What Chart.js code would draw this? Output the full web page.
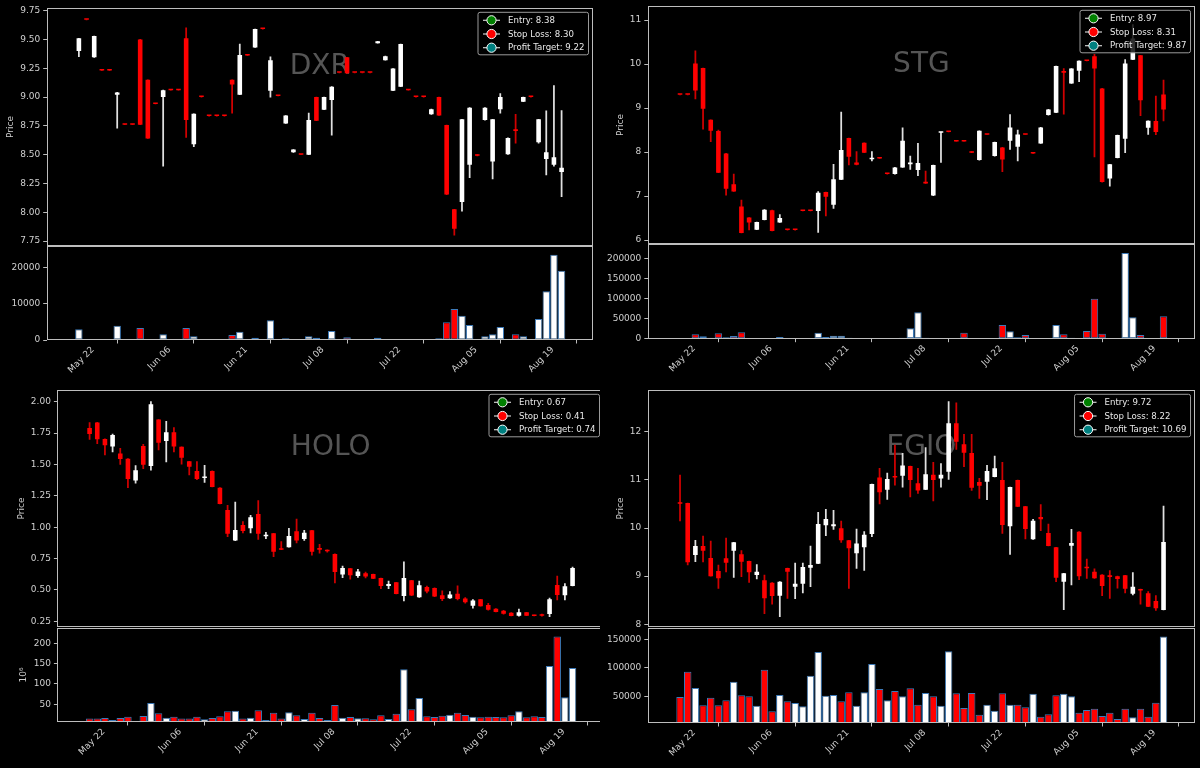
<!DOCTYPE html>
<html><head><meta charset="utf-8">
<script src="https://cdn.jsdelivr.net/npm/chart.js@4.4.1/dist/chart.umd.min.js"></script>
<style>
html,body{margin:0;padding:0;background:#000;width:1200px;height:768px;overflow:hidden;}
.box{position:absolute;overflow:hidden;}
canvas{position:absolute;display:block;}
</style></head><body>
<script>
// ---------- shared axis labels ----------
const dateLabels = ['May 22','Jun 06','Jun 21','Jul 08','Jul 22','Aug 05','Aug 19'];
const dateTickIndex = [0,10,20,30,40,50,60];
const legendNames = ['Entry','Stop Loss','Profit Target'];

// ---------- DXR ----------
const dxrOpen  = [9.40,9.67,9.345,9.23,9.23,9.02,8.76,8.76,9.50,9.15,8.94,9.00,9.06,9.06,9.51,8.59,9.00,8.835,8.835,8.835,9.15,9.02,9.36,9.43,9.59,9.055,9.01,8.77,8.52,8.50,8.50,9.00,8.89,8.975,9.21,9.345,9.21,9.21,9.21,9.467,9.32,9.055,9.09,9.06,9.00,9.00,8.85,9.00,8.757,8.025,8.09,8.413,8.50,8.80,8.44,8.894,8.503,8.72,8.96,9.00,8.607,8.462,8.413,8.35];
const dxrHigh  = [9.51,9.67,9.53,9.23,9.23,9.04,8.76,8.76,9.50,9.15,8.94,9.06,9.06,9.06,9.60,8.855,9.00,8.835,8.835,8.835,9.15,9.46,9.36,9.59,9.59,9.35,9.01,8.84,8.545,8.50,8.86,9.00,9.00,9.09,9.21,9.345,9.21,9.21,9.21,9.484,9.355,9.247,9.46,9.06,9.00,9.00,8.895,9.00,8.757,8.025,8.807,8.908,8.50,8.908,8.807,9.03,8.645,8.85,9.00,9.00,8.807,8.88,9.10,8.882];
const dxrLow   = [9.35,9.67,9.345,9.23,9.23,8.73,8.76,8.76,8.76,8.64,8.94,8.40,9.06,9.06,8.65,8.57,9.00,8.835,8.835,8.835,8.86,9.02,9.36,9.43,9.59,9.00,9.01,8.77,8.52,8.50,8.50,8.795,8.89,8.67,9.21,9.206,9.21,9.21,9.21,9.467,9.32,9.055,9.09,9.06,9.00,9.00,8.85,8.84,8.153,7.80,8.01,8.30,8.49,8.80,8.29,8.86,8.503,8.60,8.96,9.00,8.60,8.324,8.40,8.135];
const dxrClose = [9.51,9.67,9.53,9.23,9.23,9.04,8.76,8.76,8.76,8.64,8.94,9.06,9.06,9.06,8.80,8.855,9.00,8.835,8.835,8.835,9.11,9.365,9.36,9.59,9.59,9.32,9.01,8.84,8.545,8.50,8.80,8.795,9.00,9.09,9.21,9.206,9.21,9.21,9.21,9.484,9.355,9.247,9.46,9.06,9.00,9.00,8.895,8.84,8.153,7.857,8.807,8.908,8.49,8.908,8.807,9.00,8.645,8.705,9.00,9.00,8.807,8.52,8.477,8.387];
const dxrVolume = [2935,200,100,0,0,3945,100,0,3300,200,50,1560,0,0,3300,1000,50,200,0,0,1380,2290,0,640,0,5410,200,460,100,200,1000,640,280,2480,0,730,0,0,0,640,280,280,100,200,280,0,180,460,4860,8530,6700,4130,200,1000,1560,3580,280,1560,1000,0,5780,13400,23490,19080];
const dxrPriceTicks = [7.75,8.00,8.25,8.50,8.75,9.00,9.25,9.50,9.75];
const dxrVolumeTicks = [0,10000,20000];
const dxrLevels = [8.38,8.30,9.22];

// ---------- STG ----------
const stgOpen  = [9.30,9.30,10.015,9.91,8.735,8.48,7.97,7.27,6.765,6.51,6.235,6.455,6.68,6.40,6.227,6.227,6.66,6.66,6.66,7.09,6.80,7.37,8.318,7.765,8.21,7.835,7.856,7.50,7.50,7.65,7.72,7.59,7.326,7.01,8.44,8.455,8.24,8.24,8.008,7.818,8.394,7.909,8.106,8.258,8.12,8.394,7.97,8.197,8.84,8.894,9.84,9.56,9.85,10.07,10.18,9.447,7.40,7.864,8.30,10.10,10.20,8.553,8.705,9.31];
const stgHigh  = [9.30,9.30,10.30,9.91,8.735,8.50,7.97,7.50,6.91,6.51,6.41,6.69,6.68,6.58,6.227,6.227,6.66,6.66,7.10,7.09,7.72,8.91,8.318,8.01,8.21,8.01,7.856,7.50,7.65,8.55,7.91,8.197,7.57,7.705,8.455,8.455,8.24,8.24,8.008,8.485,8.394,8.227,8.106,8.85,8.50,8.394,7.97,8.561,8.97,9.955,9.90,9.90,10.075,10.07,10.22,9.447,7.72,8.386,10.10,10.90,10.20,8.712,9.27,9.636];
const stgLow   = [9.30,9.30,9.21,8.52,8.235,7.53,7.02,7.106,6.16,6.23,6.235,6.455,6.205,6.40,6.227,6.227,6.66,6.66,6.175,6.55,6.72,7.37,7.71,7.71,7.985,7.80,7.856,7.50,7.50,7.65,7.606,7.462,7.288,7.01,7.765,8.455,8.24,8.24,7.985,7.818,8.394,7.909,7.553,8.06,7.80,8.394,7.97,8.197,8.84,8.894,8.864,9.56,9.60,10.07,7.89,7.318,7.227,7.864,7.985,10.10,8.826,8.40,8.394,8.705];
const stgClose = [9.30,9.30,9.40,8.985,8.485,7.53,7.167,7.106,6.16,6.40,6.41,6.69,6.205,6.50,6.227,6.227,6.66,6.66,7.076,6.985,7.38,8.045,7.894,7.71,7.985,7.864,7.856,7.50,7.65,8.258,7.765,7.75,7.288,7.705,8.455,8.455,8.24,8.24,7.985,8.485,8.394,8.227,7.833,8.561,8.40,8.394,7.97,8.561,8.97,9.955,9.80,9.90,10.075,10.07,9.90,7.318,7.72,8.386,10.015,10.58,9.18,8.712,8.455,8.97];
const stgVolume = [0,0,10900,5860,2500,13400,3350,6700,15900,500,500,500,500,4180,0,0,0,0,15060,4180,7530,7530,2500,500,500,800,0,0,300,2500,25940,66100,2500,600,300,0,0,15060,300,500,0,300,34300,18400,3350,9200,0,800,300,34300,10900,2500,800,19250,100400,12550,800,300,215000,53560,9200,800,1670,56070];
const stgPriceTicks = [6,7,8,9,10,11];
const stgVolumeTicks = [0,50000,100000,150000,200000];
const stgLevels = [8.97,8.31,9.87];

// ---------- HOLO ----------
const holoOpen  = [1.79,1.835,1.703,1.642,1.588,1.546,1.371,1.647,1.487,1.857,1.687,1.756,1.64,1.525,1.448,1.392,1.448,1.315,1.137,0.893,1.017,0.991,1.105,0.927,0.951,0.832,0.84,0.967,0.906,0.975,0.834,0.816,0.787,0.622,0.672,0.611,0.632,0.627,0.595,0.532,0.561,0.452,0.577,0.441,0.524,0.516,0.457,0.433,0.47,0.431,0.373,0.425,0.38,0.351,0.335,0.319,0.295,0.322,0.30,0.303,0.309,0.54,0.457,0.532];
const holoHigh  = [1.833,1.835,1.703,1.742,1.628,1.546,1.49,1.66,2.0,1.857,1.843,1.793,1.64,1.525,1.522,1.493,1.448,1.315,1.174,1.20,1.044,1.095,1.211,0.959,0.951,0.885,0.991,1.065,0.975,0.975,0.864,0.82,0.787,0.69,0.672,0.664,0.642,0.627,0.595,0.571,0.561,0.723,0.577,0.571,0.53,0.516,0.492,0.486,0.532,0.44,0.423,0.425,0.394,0.351,0.338,0.319,0.348,0.322,0.30,0.308,0.436,0.611,0.55,0.683];
const holoLow   = [1.70,1.665,1.575,1.60,1.50,1.315,1.35,1.466,1.455,1.615,1.52,1.60,1.503,1.416,1.379,1.357,1.32,1.185,0.925,0.893,0.954,0.954,0.903,0.909,0.765,0.821,0.84,0.874,0.895,0.776,0.792,0.80,0.555,0.598,0.585,0.60,0.595,0.59,0.51,0.51,0.468,0.412,0.455,0.441,0.476,0.447,0.415,0.433,0.42,0.394,0.354,0.37,0.338,0.324,0.306,0.293,0.29,0.295,0.293,0.29,0.287,0.42,0.42,0.532];
const holoClose = [1.742,1.70,1.652,1.735,1.543,1.384,1.453,1.498,1.98,1.673,1.756,1.642,1.554,1.482,1.384,1.402,1.32,1.185,0.948,0.978,0.97,1.079,0.948,0.935,0.805,0.821,0.93,0.893,0.956,0.805,0.821,0.808,0.643,0.675,0.617,0.646,0.606,0.59,0.532,0.548,0.468,0.595,0.455,0.537,0.487,0.447,0.428,0.463,0.428,0.401,0.415,0.37,0.343,0.324,0.311,0.293,0.322,0.295,0.293,0.295,0.425,0.46,0.529,0.675];
const holoVolume = [14.8,14.8,16.4,11.5,16.4,19.7,8.2,21.3,53.3,27.9,17.2,19.7,14.8,14.8,19.7,13.1,16.4,20.5,32.8,34.4,14.8,17.2,35.2,11.5,29.5,14.8,30.3,23.0,13.9,29.5,16.4,11.5,48.4,17.2,18.9,15.6,15.6,13.1,23.0,13.9,27.0,136.1,37.7,65.6,20.5,18.9,22.1,24.6,29.5,23.8,19.7,18.0,19.7,18.9,18.0,23.0,32.8,18.0,20.5,18.9,144.3,216.4,67.2,139.3];
const holoPriceTicks = [0.25,0.50,0.75,1.00,1.25,1.50,1.75,2.00];
const holoVolumeTicks = [50,100,150,200];
const holoLevels = [0.67,0.41,0.74];

// ---------- EGIO ----------
const egioOpen  = [10.526,10.519,9.44,9.626,9.377,9.107,9.37,9.53,9.453,9.315,9.024,8.914,8.865,8.595,9.17,8.782,8.844,9.176,9.26,10.055,10.035,9.993,9.744,9.474,9.6,9.875,11.05,10.796,11.08,11.087,11.287,10.927,10.796,11.107,11.03,11.17,12.173,11.737,11.557,10.955,10.962,11.06,10.997,10.035,10.997,10.45,9.765,10.228,9.896,9.599,8.886,9.633,9.924,9.176,9.093,9.031,9.017,9.0,9.017,8.637,8.733,8.644,8.484,8.297];
const egioHigh  = [11.10,10.519,9.744,9.834,9.73,9.232,9.79,9.702,9.53,9.315,9.24,9.024,8.865,8.886,9.17,9.27,9.273,9.626,10.325,10.39,10.367,10.145,9.744,9.98,9.924,10.913,11.24,11.142,11.72,11.55,11.287,11.24,11.668,11.363,11.336,12.623,12.602,11.945,11.945,11.03,11.30,11.495,11.363,10.851,10.997,10.45,10.18,10.484,10.083,9.599,9.059,9.972,9.924,9.356,9.15,9.031,9.114,9.0,9.017,9.073,8.733,8.68,8.595,10.457];
const egioLow   = [10.146,9.232,9.30,9.294,9.0,8.747,9.087,8.976,8.99,8.87,8.94,8.22,8.42,8.16,8.54,8.53,8.65,8.78,9.26,9.84,9.972,9.70,8.747,9.163,9.12,9.82,10.498,10.595,10.89,10.85,10.644,10.72,10.796,10.56,10.85,11.01,11.633,11.273,10.78,10.616,10.588,11.06,9.889,9.453,10.443,9.772,9.765,9.945,9.626,8.886,8.304,8.817,8.927,8.955,8.955,8.595,8.54,8.75,8.65,8.61,8.42,8.367,8.29,8.297];
const egioClose = [10.505,9.287,9.626,9.53,9.0,8.955,9.28,9.702,9.30,9.08,9.093,8.54,8.588,8.886,9.093,8.844,9.19,9.232,10.083,10.187,10.076,9.744,9.578,9.68,9.86,10.913,10.74,11.017,11.05,11.30,10.997,10.78,11.114,10.997,11.107,12.173,11.792,11.564,10.837,10.879,11.183,11.24,10.062,10.851,10.443,9.979,10.152,10.18,9.626,8.969,9.059,9.689,9.0,9.163,8.955,8.796,8.983,8.941,8.74,8.782,8.70,8.367,8.332,9.709];
const egioVolume = [48830,93270,64620,34210,47660,34210,42980,75730,51750,50000,33630,96780,23680,52340,41230,38300,32460,86260,127780,51170,52340,41230,57020,33630,57020,106730,62870,42980,59360,50000,64040,35380,55850,50000,33630,128950,55260,29530,55850,17840,35380,24850,55260,35380,35380,30700,54680,14330,18420,51750,54680,50000,21340,26020,28360,15500,21340,10230,28360,13160,28360,14330,38890,154680];
const egioPriceTicks = [8,9,10,11,12];
const egioVolumeTicks = [50000,100000,150000];
const egioLevels = [9.72,8.22,10.69];

// ---------- layout (positions / styles only) ----------
const X_MIN = -4.2, X_MAX = 67.1;
const FONT = 'DejaVu Sans';
const TICK_COLOR = '#cfcfcf';
const SPINE = '#bdbdbd';
const levelColors = ['#008000','#ff0000','#008080'];

const panels = [
  {sym:'DXR', open:dxrOpen, high:dxrHigh, low:dxrLow, close:dxrClose, vol:dxrVolume,
   pTicks:dxrPriceTicks, vTicks:dxrVolumeTicks, levels:dxrLevels, dec:2,
   bx:0, L:46.7, R:593, pT:8, pB:246, pCT:0, vT:246, vB:340,
   pMin:7.707, pMax:9.773, vMin:0, vMax:25870, titleX:10.7, vTitle:'', vTitleX:10.7},
  {sym:'STG', open:stgOpen, high:stgHigh, low:stgLow, close:stgClose, vol:stgVolume,
   pTicks:stgPriceTicks, vTicks:stgVolumeTicks, levels:stgLevels, dec:0,
   bx:600, L:647.8, R:1195, pT:6, pB:244, pCT:0, vT:244, vB:338.7,
   pMin:5.91, pMax:11.32, vMin:0, vMax:237600, titleX:621, vTitle:'', vTitleX:621},
  {sym:'HOLO', open:holoOpen, high:holoHigh, low:holoLow, close:holoClose, vol:holoVolume,
   pTicks:holoPriceTicks, vTicks:holoVolumeTicks, levels:holoLevels, dec:2,
   bx:0, L:57.4, R:604, pT:390, pB:627, pCT:384, vT:628, vB:722,
   pMin:0.2046, pMax:2.093, vMin:6.5, vMax:237.6, titleX:22, vTitle:'10\u2076', vTitleX:24},
  {sym:'EGIO', open:egioOpen, high:egioHigh, low:egioLow, close:egioClose, vol:egioVolume,
   pTicks:egioPriceTicks, vTicks:egioVolumeTicks, levels:egioLevels, dec:0,
   bx:600, L:647.8, R:1195, pT:390, pB:627, pCT:384, vT:628, vB:723,
   pMin:7.944, pMax:12.866, vMin:3160, vMax:169800, titleX:621, vTitle:'', vTitleX:621}
];

Chart.defaults.font.family = FONT;
Chart.defaults.font.size = 9;
Chart.defaults.color = TICK_COLOR;

function mkCanvas(parent, left, top, w, h) {
  const c = document.createElement('canvas');
  c.width = w; c.height = h;
  c.style.left = left + 'px'; c.style.top = top + 'px';
  c.style.width = w + 'px'; c.style.height = h + 'px';
  parent.appendChild(c);
  return c;
}

function framePlugin() {
  return {
    id: 'frame',
    afterDatasetsDraw(chart) {
      const a = chart.chartArea, ctx = chart.ctx;
      ctx.save();
      ctx.strokeStyle = SPINE; ctx.lineWidth = 1;
      ctx.strokeRect(Math.round(a.left) + 0.5, Math.round(a.top) + 0.5,
        Math.round(a.right) - Math.round(a.left) - 1, Math.round(a.bottom) - Math.round(a.top) - 1);
      ctx.restore();
    }
  };
}

function watermarkPlugin(text) {
  return {
    id: 'watermark',
    beforeDatasetsDraw(chart) {
      const a = chart.chartArea, ctx = chart.ctx;
      ctx.save();
      ctx.font = '28px "' + FONT + '"';
      ctx.fillStyle = '#555555';
      ctx.textAlign = 'center'; ctx.textBaseline = 'middle';
      ctx.fillText(text, (a.left + a.right) / 2, a.top + 0.245 * (a.bottom - a.top));
      ctx.restore();
    }
  };
}

function legendPlugin(levels) {
  return {
    id: 'levelsLegend',
    afterDraw(chart) {
      const a = chart.chartArea, ctx = chart.ctx;
      ctx.save();
      ctx.font = '8.6px "' + FONT + '"';
      const labels = legendNames.map((n, k) => n + ': ' + levels[k].toFixed(2));
      const tw = Math.max(...labels.map(t => ctx.measureText(t).width));
      const w = 30 + tw + 4, h = 42.5;
      const x0 = a.right - 4.5 - w, y0 = a.top + 4.3;
      ctx.beginPath();
      if (ctx.roundRect) ctx.roundRect(x0, y0, w, h, 2); else ctx.rect(x0, y0, w, h);
      ctx.fillStyle = 'rgba(0,0,0,0.82)'; ctx.fill();
      ctx.strokeStyle = '#9a9a9a'; ctx.lineWidth = 1; ctx.stroke();
      labels.forEach((t, k) => {
        const y = y0 + 8 + k * 13.7;
        ctx.beginPath(); ctx.moveTo(x0 + 5, y); ctx.lineTo(x0 + 22, y);
        ctx.strokeStyle = '#d0d0d0'; ctx.lineWidth = 1.2; ctx.stroke();
        ctx.beginPath(); ctx.arc(x0 + 13.5, y, 4.6, 0, Math.PI * 2);
        ctx.fillStyle = levelColors[k]; ctx.fill();
        ctx.strokeStyle = '#ffffff'; ctx.lineWidth = 1; ctx.stroke();
        ctx.fillStyle = '#e8e8e8'; ctx.textAlign = 'left'; ctx.textBaseline = 'middle';
        ctx.fillText(t, x0 + 30, y + 0.5);
      });
      ctx.restore();
    }
  };
}

function yAxis(p, min, max, ticks, fmt, title, titleX) {
  return {
    min, max,
    afterFit: s => { s.width = p.L - p.bx; s.paddingTop = 0; s.paddingBottom = 0; s.paddingLeft = 0; s.paddingRight = 0; },
    afterBuildTicks: s => { s.ticks = ticks.map(v => ({value: v})); },
    ticks: {callback: fmt, color: TICK_COLOR, padding: 3, autoSkip: false, font: {size: 9}},
    grid: {drawOnChartArea: false, drawTicks: true, tickLength: 3.5, color: SPINE},
    border: {display: false},
    title: {display: !!title, text: title, color: TICK_COLOR, font: {size: 9},
            padding: {top: titleX - p.bx - 5.4, bottom: 0}}
  };
}

function buildPanel(p) {
  const box = document.createElement('div');
  box.className = 'box';
  box.style.left = p.bx + 'px'; box.style.top = '0px';
  box.style.width = '600px'; box.style.height = '768px';
  document.body.appendChild(box);

  const idx = p.open.map((_, i) => i);
  const up = idx.map(i => p.close[i] > p.open[i]);
  const bodyCol = up.map(u => u ? '#ffffff' : '#ff0000');
  const wickCol = up.map(u => u ? '#e0e0e0' : '#d00000');
  const cw = Math.max(600, Math.ceil(p.R - p.bx + 8));
  const rightPad = cw - (p.R - p.bx);

  // price panel
  const pc = mkCanvas(box, 0, p.pCT, cw, p.pB - p.pCT);
  new Chart(pc, {
    type: 'bar',
    data: {datasets: [
      {data: idx.map(i => ({x: i, y: [p.open[i], p.close[i]]})), backgroundColor: bodyCol,
       borderWidth: 0, barPercentage: 0.6, categoryPercentage: 1, grouped: false, minBarLength: 1.5, order: 0},
      {data: idx.map(i => ({x: i, y: [p.low[i], p.high[i]]})), backgroundColor: wickCol,
       borderWidth: 0, barThickness: 1.1, grouped: false, order: 1}
    ]},
    options: {
      responsive: false, animation: false, devicePixelRatio: 1,
      layout: {autoPadding: false, padding: {left: 0, top: p.pT - p.pCT, right: rightPad, bottom: 0}},
      plugins: {legend: {display: false}, tooltip: {enabled: false}},
      scales: {
        x: {type: 'linear', min: X_MIN, max: X_MAX, offset: false, display: false},
        y: yAxis(p, p.pMin, p.pMax, p.pTicks, v => Number(v).toFixed(p.dec), 'Price', p.titleX)
      }
    },
    plugins: [watermarkPlugin(p.sym), framePlugin(), legendPlugin(p.levels)]
  });

  // volume panel
  const vTop = Math.floor(p.vT);
  const vH = 140;
  const xAxH = vH - (p.vB - vTop);
  const vc = mkCanvas(box, 0, vTop, cw, vH);
  new Chart(vc, {
    type: 'bar',
    data: {datasets: [
      {data: idx.map(i => ({x: i, y: p.vol[i] > 0 ? p.vol[i] : null})), backgroundColor: bodyCol,
       borderColor: '#3d7ab8', borderWidth: 1, borderSkipped: false, barPercentage: 1, categoryPercentage: 0.97, grouped: false}
    ]},
    options: {
      responsive: false, animation: false, devicePixelRatio: 1,
      layout: {autoPadding: false, padding: {left: 0, top: p.vT - vTop, right: rightPad, bottom: 0}},
      plugins: {legend: {display: false}, tooltip: {enabled: false}},
      scales: {
        x: {type: 'linear', min: X_MIN, max: X_MAX, offset: false,
            afterFit: s => { s.height = xAxH; s.paddingLeft = 0; s.paddingRight = 0; s.paddingTop = 0; s.paddingBottom = 0; },
            afterBuildTicks: s => { s.ticks = dateTickIndex.map(v => ({value: v})); },
            ticks: {callback: v => dateLabels[dateTickIndex.indexOf(v)], color: TICK_COLOR,
                    minRotation: 45, maxRotation: 45, autoSkip: false, labelOffset: 14, padding: 1, font: {size: 9}},
            grid: {drawOnChartArea: false, drawTicks: true, tickLength: 3.5, color: SPINE},
            border: {display: false}},
        y: yAxis(p, p.vMin, p.vMax, p.vTicks, v => String(v), p.vTitle, p.vTitleX)
      }
    },
    plugins: [framePlugin()]
  });
}

panels.forEach(buildPanel);
</script>
</body></html>
